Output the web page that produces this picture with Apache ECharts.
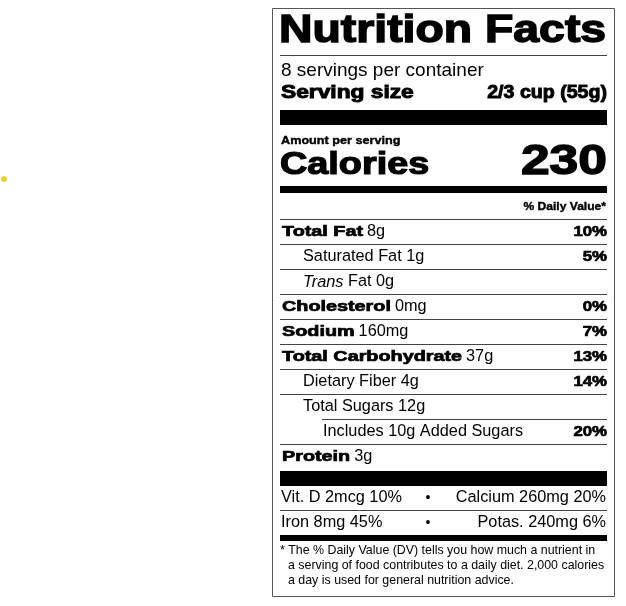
<!DOCTYPE html>
<html><head><meta charset="utf-8">
<script src="https://cdn.jsdelivr.net/npm/echarts@6/dist/echarts.min.js"></script>
<style>html,body{margin:0;padding:0;background:#fff}#c{width:626px;height:606px}</style>
</head><body><div id="c"></div>
<script>
const nutrients = ['Total Fat','Saturated Fat','Trans Fat','Cholesterol','Sodium','Total Carbohydrate','Dietary Fiber','Total Sugars','Includes 10g Added Sugars','Protein'];
const amounts = ['8g','1g','0g','0mg','160mg','37g','4g','12g','','3g'];
const dailyValues = ['10%','5%','','0%','7%','13%','14%','','20%',''];
const levels = [0,1,1,0,0,0,1,1,2,0];
const vitamins = [['Vit. D 2mcg 10%','Calcium 260mg 20%'],['Iron 8mg 45%','Potas. 240mg 6%']];
const calories = 230;
const servings = '8 servings per container';
const servingSize = '2/3 cup (55g)';
const footnote = ['* The % Daily Value (DV) tells you how much a nutrient in','a serving of food contributes to a daily diet. 2,000 calories','a day is used for general nutrition advice.'];

const F = 'Liberation Sans, Arial, sans-serif';
const L = 280, R = 607;
const g = [];
const ctx = document.createElement('canvas').getContext('2d');
function measure(t,size,bold){ctx.font=(bold?'bold ':'')+size+'px '+F;return ctx.measureText(t).width;}
function txt(x,y,t,size,align,extra){
  g.push({type:'text',x,y,style:Object.assign({x:0,y:0,text:t,fontFamily:F,fontSize:size,fill:'#000',align:align||'left',verticalAlign:'middle'},extra||{})});
}
function heavy(x,y,t,size,align,sx,lw){
  g.push({type:'text',x,y,scaleX:sx,style:{x:0,y:0,text:t,fontFamily:F,fontSize:size,fontWeight:'bold',fill:'#000',stroke:'#000',lineWidth:lw,align:align||'left',verticalAlign:'middle'}});
}
function rect(x,y,w,h,c){g.push({type:'rect',shape:{x,y,width:w,height:h},style:{fill:c||'#000'}});}
function line(x1,y,x2){rect(x1,y,x2-x1,1,'#444');}

g.push({type:'rect',shape:{x:272.5,y:8.5,width:342,height:588},style:{fill:'none',stroke:'#555',lineWidth:1}});
heavy(L-1,32,'Nutrition Facts',38,'left',1.22,1.4);
line(L,55,R);
txt(L+1,71,servings,19);
heavy(L+1,93,'Serving size',17.5,'left',1.3,0.9);
heavy(R,93,servingSize,17.5,'right',1.12,0.9);
rect(L,110,R-L,15);
heavy(L+1,141,'Amount per serving',11,'left',1.15,0.4);
heavy(L,165,'Calories',31,'left',1.22,1.2);
heavy(R,162,String(calories),43,'right',1.2,1.4);
rect(L,186,R-L,7);
heavy(R-1,207,'% Daily Value*',11.5,'right',1.05,0.4);
line(L,219,R);
const ind=[282,303,323];
const BS=1.32;
nutrients.forEach((n,i)=>{
  const y=232+i*25, x=ind[levels[i]];
  if(n==='Trans Fat'){
    txt(x,y,'{i|Trans} Fat '+amounts[i],16.3,'left',{rich:{i:{fontStyle:'italic',fontFamily:F,fontSize:16.3}}});
  } else if(levels[i]===0){
    heavy(x,y,n,15,'left',BS,0.7);
    txt(x+measure(n,15,true)*BS+4,y,amounts[i],16.3);
  } else {
    txt(x,y,n+(amounts[i]?' '+amounts[i]:''),16.3);
  }
  if(dailyValues[i]) heavy(R,y,dailyValues[i],15,'right',1.12,0.7);
  if(i<nutrients.length-1){
    const nx = levels[i+1]===2?322:L;
    line(nx,244+i*25,R);
  }
});
rect(L,471,R-L,15);
vitamins.forEach((v,i)=>{
  const y=498+i*25;
  txt(L+1,y,v[0],16.3);
  txt(428,y,'•',14,'center');
  txt(R-1,y,v[1],16.3,'right');
});
line(L,510,R);
rect(L,535,R-L,6);
footnote.forEach((t,i)=>txt(i?L+8:L,551+i*15,t,12.4));
g.push({type:'circle',shape:{cx:4,cy:179,r:2.5},style:{fill:'#ffd700',stroke:'#c8a800',lineWidth:0.5}});

const chart = echarts.init(document.getElementById('c'));
chart.setOption({animation:false,graphic:{elements:g}});
</script></body></html>
